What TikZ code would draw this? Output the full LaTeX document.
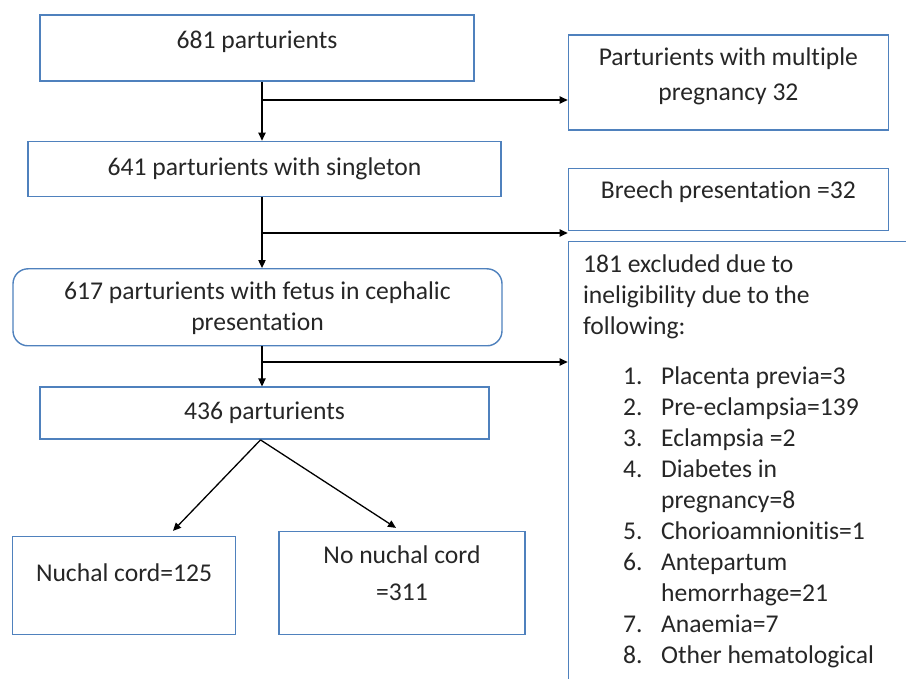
\documentclass[tikz,border=0pt]{standalone}
\usepackage{fontspec}
\setmainfont{Carlito}[Ligatures=NoCommon]
\usepackage{tikz}
\usetikzlibrary{positioning}
\usetikzlibrary{arrows.meta}
\definecolor{boxblue}{RGB}{79,129,189}

\begin{document}
\begin{tikzpicture}[
x=0.5pt, y=-0.5pt,
every node/.style={font=\fontsize{12.8}{15.5}\selectfont, text=black!85},
box/.style={draw=boxblue, line width=0.7pt, inner sep=0pt},
lbl/.style={anchor=base, inner sep=0pt},
arr/.style={-{Triangle[length=4pt, width=3.6pt]}, line width=0.65pt, black}
]
\clip (0,0) rectangle (906,679);
\node[box, minimum width=217pt, minimum height=33pt, label={[lbl, yshift=-17pt]north:{681 parturients}}] (a) at (257,48) {};
\node[box, minimum width=236.5pt, minimum height=27.5pt, below=29.5pt of a, xshift=3.75pt, label={[lbl, yshift=-17.5pt]north:{641 parturients with singleton}}] (b) {};
\node[box, rounded corners=7.5pt, minimum width=244.5pt, minimum height=38.5pt, below=35.5pt of b, xshift=-3.5pt, label={[lbl, yshift=-15.5pt]north:{\begin{tabular}[t]{@{}c@{}}617 parturients with fetus in cephalic\\ presentation\end{tabular}}}] (c) {};
\node[box, minimum width=224.5pt, minimum height=26pt, below=20pt of c, xshift=3.5pt, label={[lbl, yshift=-16.5pt]north:{436 parturients}}] (g) {};
\node[box, minimum width=111.25pt, minimum height=49pt, below=48pt of g, xshift=-70.25pt, label={[lbl, yshift=-22.75pt]north:{Nuchal cord=125}}] (h) {};
\node[box, minimum width=123pt, minimum height=51.5pt, below=45.5pt of g, xshift=68.75pt, label={[lbl, yshift=-16.5pt]north:{\begin{tabular}[t]{@{}c@{}}No nuchal cord\\[3pt] =311\end{tabular}}}] (i) {};
\node[box, minimum width=160pt, minimum height=47.5pt, right=46.5pt of a, yshift=-17.25pt, label={[lbl, yshift=-15.5pt]north:{\begin{tabular}[t]{@{}c@{}}Parturients with multiple\\[2pt] pregnancy 32\end{tabular}}}] (d) {};
\node[box, minimum width=160pt, minimum height=31pt, below=18.5pt of d, label={[lbl, yshift=-15.5pt]north:{Breech presentation =32}}] (e) {};
\node[box, minimum width=250pt, minimum height=250pt, below=5pt of e.south west, anchor=north west, label={[lbl, anchor=base west, xshift=7.5pt, yshift=-15.5pt]north west:{\begin{tabular}[t]{@{\hspace{20pt}}p{19pt}@{}l@{}}
\multicolumn{2}{@{}l@{}}{181 excluded due to}\\
\multicolumn{2}{@{}l@{}}{ineligibility due to the}\\
\multicolumn{2}{@{}l@{}}{following:}\\[9.5pt]
1. & Placenta previa=3\\
2. & Pre-eclampsia=139\\
3. & Eclampsia =2\\
4. & Diabetes in\\
   & pregnancy=8\\
5. & Chorioamnionitis=1\\
6. & Antepartum\\
   & hemorrhage=21\\
7. & Anaemia=7\\
8. & Other hematological
\end{tabular}}}] (f) {};
\coordinate (j1) at (262,100);
\coordinate (j2) at (262,233);
\coordinate (j3) at (262,362);
\draw[arr] (a.south -| j1) -- (b.north -| j1);
\draw[arr] (b.south -| j1) -- (c.north -| j1);
\draw[arr] (c.south -| j1) -- (g.north -| j1);
\draw[arr] (j1) -- (j1 -| d.west);
\draw[arr] (j2) -- (j2 -| e.west);
\draw[arr] (j3) -- (j3 -| f.west);
\draw[arr] ([xshift=-2pt]g.south) -- ([xshift=24.5pt, yshift=2.5pt]h.north);
\draw[arr] ([xshift=-2pt]g.south) -- ([xshift=-3pt, yshift=1.5pt]i.north);
\end{tikzpicture}
\end{document}
